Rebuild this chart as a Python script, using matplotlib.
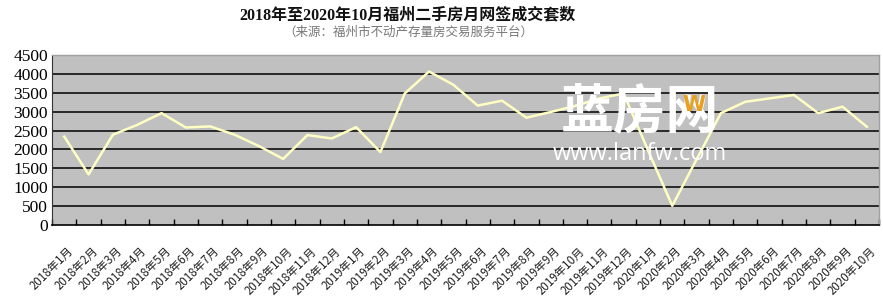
import matplotlib
matplotlib.use("Agg")
import matplotlib.pyplot as plt
import numpy as np

months = ["2018年1月", "2018年2月", "2018年3月", "2018年4月", "2018年5月", "2018年6月",
          "2018年7月", "2018年8月", "2018年9月", "2018年10月", "2018年11月", "2018年12月",
          "2019年1月", "2019年2月", "2019年3月", "2019年4月", "2019年5月", "2019年6月",
          "2019年7月", "2019年8月", "2019年9月", "2019年10月", "2019年11月", "2019年12月",
          "2020年1月", "2020年2月", "2020年3月", "2020年4月", "2020年5月", "2020年6月",
          "2020年7月", "2020年8月", "2020年9月", "2020年10月"]
values = [2340, 1340, 2390, 2650, 2960, 2580, 2610, 2390, 2090, 1750, 2380, 2290,
          2590, 1930, 3480, 4060, 3710, 3160, 3290, 2840, 2990, 3150, 3350, 3480,
          1980, 510, 1740, 2960, 3260, 3350, 3440, 2960, 3130, 2600]
yticks = [0, 500, 1000, 1500, 2000, 2500, 3000, 3500, 4000, 4500]

title = "2018年至2020年10月福州二手房月网签成交套数"
subtitle = "（来源：福州市不动产存量房交易服务平台）"

fam = ["Liberation Serif", "Noto Sans CJK SC", "DejaVu Sans"]

fig = plt.figure(figsize=(8.83, 3.05), dpi=100)
ax = fig.add_axes([0.059, 0.262, 0.9365, 0.558])
ax.set_facecolor("#c0c0c0")

x = np.arange(len(months))
ax.plot(x, values, color="#ffffc4", lw=1.8, zorder=3)

ax.set_xlim(-0.5, len(months) - 0.5)
ax.set_ylim(0, 4500)
ax.set_yticks(yticks)
ax.set_yticklabels([str(v) for v in yticks], family=fam, fontsize=12.5)
for v in yticks[1:-1]:
    ax.axhline(v, color="black", lw=1.1, zorder=2)

ax.set_xticks(np.arange(len(months) + 1) - 0.5, minor=False)
ax.set_xticklabels([])
ax.tick_params(axis="x", direction="in", length=4, width=1, color="black")
ax.tick_params(axis="y", length=0, pad=3)
for i, m in enumerate(months):
    ax.annotate(m, xy=(i, 0), xycoords=("data", "axes fraction"),
                xytext=(2, -14), textcoords="offset points",
                rotation=45, ha="right", va="top", rotation_mode="anchor",
                fontsize=8.3, family=["Noto Sans CJK SC", "DejaVu Sans"], color="#222222")

for s in ["top", "right"]:
    ax.spines[s].set_color("#a0a0a0")
    ax.spines[s].set_linewidth(1)
ax.spines["left"].set_color("#333333")
ax.spines["bottom"].set_color("black")
ax.spines["bottom"].set_linewidth(1.2)

# watermark
fig.text(0.725, 0.63, "蓝房网", fontsize=38, color="white", ha="center", va="center",
         family=["Noto Sans CJK SC"], weight="bold", zorder=5)
fig.text(0.725, 0.495, "www.lanfw.com", fontsize=17, color="white", ha="center", va="center",
         family=["Open Sans"], zorder=5)
fig.text(0.786, 0.655, "W", fontsize=15, color="#e8a020", ha="center", va="center",
         family=["DejaVu Sans"], weight="bold", zorder=6)

fig.text(0.462, 0.95, title, fontsize=11.5, weight="bold", ha="center", va="center",
         family=fam, color="#111111")
fig.text(0.462, 0.893, subtitle, fontsize=9, ha="center", va="center",
         family=["Noto Sans CJK SC", "DejaVu Sans"], color="#777777")

fig.savefig("out.png", dpi=100, facecolor="white")
